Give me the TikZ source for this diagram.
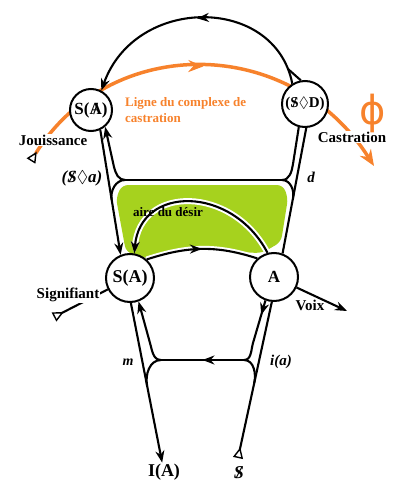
\documentclass[tikz,border=0pt]{standalone}
\usepackage{amssymb}
\usepackage{fontspec}
\setmainfont{Liberation Serif}
\newfontfamily\phifont{DejaVu Sans}
\usetikzlibrary{arrows.meta,calc,decorations.markings,backgrounds}
\definecolor{castrorange}{RGB}{247,130,44}
\definecolor{desiregreen}{RGB}{166,210,30}
\newcommand{\barS}{\ooalign{S\cr\hidewidth/\hidewidth}}
\newcommand{\barA}{\ooalign{A\cr\hidewidth/\hidewidth}}
\tikzset{
  vec/.style={line width=2.1pt},
  circ/.style={circle,draw,line width=2pt,fill=white,inner sep=0pt},
  lbl/.style={font=\fontsize{15}{15}\selectfont\bfseries,inner sep=1pt},
  head/.style={-{Stealth[length=12pt,width=9pt]}},
  tail/.style={{Triangle[open,reversed,length=11pt,width=10pt,line width=1.4pt]}-},
  midarrow/.style={postaction={decorate},decoration={markings,
      mark=at position #1 with {\arrow{Stealth[length=12pt,width=9pt]}}}},
  halo/.style={preaction={draw=white,line width=6pt}},
  castrline/.style={color=castrorange,line width=3.5pt,
      {Triangle[open,reversed,color=black,length=11pt,width=10pt,line width=1.4pt]}-{Stealth[length=16pt,width=13pt]},
      postaction={decorate},decoration={markings,
      mark=at position 0.5 with {\arrow{Stealth[length=15pt,width=12pt]}}}}
}
\begin{document}
\begin{tikzpicture}[x=1pt,y=-1pt]
\useasboundingbox (0,0) rectangle (401,500);
% the four points of the graph
\node[circ,minimum size=42pt,font=\fontsize{17}{17}\selectfont\bfseries] (sbA) at (91,110) {S(\barA)};
\node[circ,minimum size=46pt,font=\fontsize{15}{15}\selectfont\bfseries] (sod) at (305,104) {(\barS$\lozenge$D)};
\node[circ,minimum size=48pt,font=\fontsize{18}{18}\selectfont\bfseries] (sA) at (130,278) {S(A)};
\node[circ,minimum size=48pt,font=\fontsize{17}{17}\selectfont\bfseries] (A) at (274,277) {A};
% end labels
\node[inner sep=1pt,font=\fontsize{18}{18}\selectfont\bfseries] (IA) at (164,472) {I(A)};
\node[inner sep=1pt,font=\fontsize{18}{18}\selectfont\bfseries\itshape] (sbar) at (239,473) {\barS};
\coordinate (jtail) at (31,161);
\coordinate (ctip) at (374,166);
\coordinate (sigtail) at (54,317);
\coordinate (voixtip) at (347,311);
\coordinate (stail) at (238,458);
% upper left branch
\coordinate (J1) at (125,180);
\coordinate (U1) at (114,167);
\coordinate (D1) at ($(sbA.-65)!0.56!(sA.112)$);
\draw[vec,head] (sbA.-65) -- (sA.112);
\draw[vec,head] (J1) to[out=180,in=-76] (U1) -- (sbA.-50);
\draw[vec] (J1) to[out=180,in=100] (D1);
% upper right branch
\coordinate (J2) at (282,180);
\coordinate (U2) at (293,164);
\coordinate (D2) at ($(sod.-87)!0.56!(A.70)$);
\draw[vec] (A.70) -- (sod.-87);
\draw[vec] (sod.-105) -- (U2) to[out=-99,in=0] (J2);
\draw[vec] (J2) to[out=0,in=79] (D2);
\draw[vec] (J1) -- (J2);
% lower left branch
\coordinate (J3) at (161,360);
\coordinate (U3) at (150,343);
\coordinate (D3) at ($(sA.-88)!0.49!(IA)$);
\draw[vec,head] (sA.-88) -- (IA);
\draw[vec,head] (J3) to[out=180,in=-74] (U3) -- (sA.-70);
\draw[vec] (J3) to[out=180,in=101] (D3);
% lower right branch
\coordinate (J4) at (244,360);
\coordinate (U4) at (253,343);
\coordinate (D4) at ($(A.-95)!0.52!(stail)$);
\draw[vec,tail] (stail) -- (A.-95);
\draw[vec,midarrow=15pt] (A.-110) -- (U4) to[out=-106,in=0] (J4);
\draw[vec] (J4) to[out=0,in=78] (D4);
\draw[vec,midarrow=0.5] (J4) -- (J3);
% signifying chain
\draw[vec,tail] (sigtail) -- (sA);
\draw[vec,head] (A.-25) -- (voixtip);
% top loop
\draw[vec,head,midarrow=0.5] (sod.122) .. controls (275,-5) and (135,-5) .. (sbA.62);
\coordinate (cusp) at (288,69);
\draw[vec] (cusp) -- (sod.100);
% labels
\node[lbl,fill=white] (jouis) at (53,140) {Jouissance};
\node[lbl,fill=white] (castr) at (352,137) {Castration};
\node[lbl,fill=white] (signif) at (68,295) {Signifiant};
\node[lbl] (voix) at (310,305) {Voix};
\node[lbl,font=\fontsize{17}{17}\selectfont\bfseries\itshape] (fant) at (82,178) {(\barS$\lozenge$a)};
\node[lbl,font=\fontsize{15}{15}\selectfont\bfseries\itshape] (dlab) at (311,177) {d};
\node[lbl,font=\fontsize{14}{14}\selectfont\bfseries\itshape] (mlab) at (128,362) {m};
\node[lbl,font=\fontsize{15}{15}\selectfont\bfseries\itshape] (ialab) at (281,362) {i(a)};
\node[lbl,font=\fontsize{13}{13}\selectfont\bfseries] (aire) at (168,212) {aire du désir};
\node[lbl,anchor=west,align=left,text=castrorange,font=\fontsize{13}{16}\selectfont\bfseries] (ligne) at (124,110) {Ligne du complexe de\\castration};
\node[text=castrorange,inner sep=0pt,font=\fontsize{40}{40}\selectfont\phifont] (phi) at (373,113) {ϕ};
% behind the points
\begin{scope}[on background layer]
\fill[desiregreen,rounded corners=6pt] (122,185) -- (283,185) -- (288,198) -- (281,242) -- (262,253)
  -- (229,252) -- (202,249.5) -- (175,252) -- (150,259) -- (126,252) -- (116,198) -- cycle;
\draw[castrline] (jtail) .. controls (110,34) and (290,34) .. (ctip);
\draw[vec,halo,head] (A.105) .. controls (232,185) and (140,185) .. (sA.80);
\draw[vec,halo,midarrow=0.5] (sA.48) to[out=18,in=162] (A.132);
\end{scope}
\end{tikzpicture}
\end{document}
